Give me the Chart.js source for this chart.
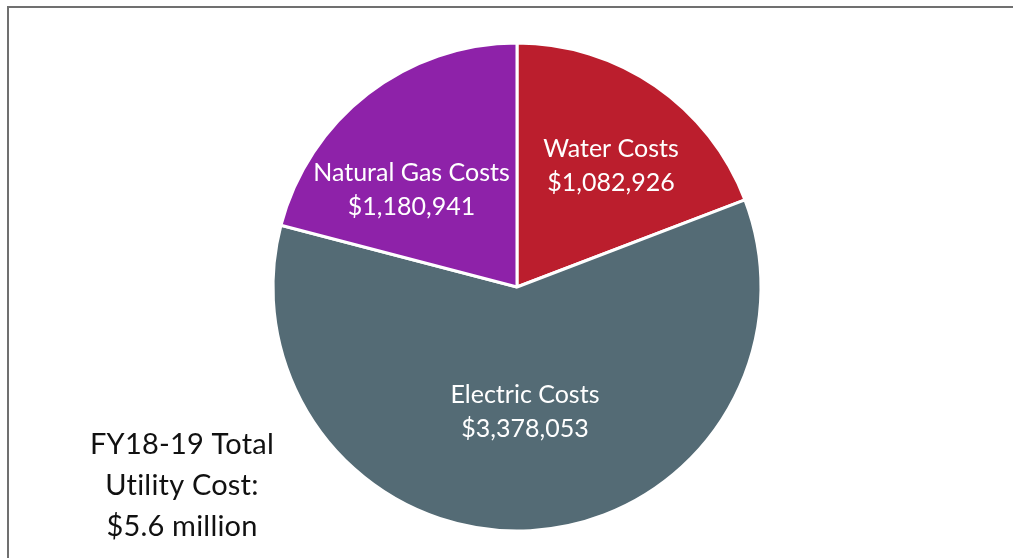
<!DOCTYPE html>
<html>
<head>
<meta charset="utf-8">
<script src="https://cdn.jsdelivr.net/npm/chart.js@4.4.1/dist/chart.umd.min.js"></script>
<style>
    html, body { margin: 0; padding: 0; background: #fff; overflow: hidden; }
    #utilityChart { display: block; }
</style>
</head>
<body>
<canvas id="utilityChart" width="1013" height="558"></canvas>
<script>
// FY18-19 utility costs
const categories = ['Water Costs', 'Electric Costs', 'Natural Gas Costs'];
const costs = [1082926, 3378053, 1180941];
const sliceColors = ['#bb1e2d', '#546b75', '#8e22a9'];
const totalLines = ['FY18-19 Total', 'Utility Cost:', '$5.6 million'];

const money = v => '$' + v.toLocaleString('en-US');

// Gray frame along the top and left edges
const frame = {
    id: 'frame',
    beforeDraw(chart, args, opts) {
        const ctx = chart.ctx;
        ctx.save();
        ctx.strokeStyle = opts.color;
        ctx.lineWidth = opts.width;
        ctx.beginPath();
        ctx.moveTo(opts.x, chart.height);
        ctx.lineTo(opts.x, opts.y);
        ctx.lineTo(chart.width, opts.y);
        ctx.stroke();
        ctx.restore();
    }
};

// Two-line labels (name + dollar amount) inside each slice
const sliceLabels = {
    id: 'sliceLabels',
    afterDatasetsDraw(chart, args, opts) {
        const ctx = chart.ctx;
        const meta = chart.getDatasetMeta(0);
        ctx.save();
        ctx.fillStyle = '#ffffff';
        ctx.font = opts.font;
        ctx.textAlign = 'center';
        ctx.textBaseline = 'middle';
        meta.data.forEach((arc, i) => {
            const p = arc.getProps(['x', 'y', 'startAngle', 'endAngle', 'outerRadius'], true);
            const mid = (p.startAngle + p.endAngle) / 2;
            const r = p.outerRadius * opts.radiusFactor;
            const shift = opts.shift[i] || [0, 0];
            const cx = p.x + Math.cos(mid) * r + shift[0];
            const cy = p.y + Math.sin(mid) * r + shift[1];
            ctx.fillText(categories[i], cx, cy - opts.lineHeight / 2);
            ctx.fillText(money(costs[i]), cx, cy + opts.lineHeight / 2);
        });
        ctx.restore();
    }
};

// Total cost note in the lower left corner
const totalNote = {
    id: 'totalNote',
    afterDraw(chart, args, opts) {
        const ctx = chart.ctx;
        ctx.save();
        ctx.fillStyle = '#111111';
        ctx.font = opts.font;
        ctx.letterSpacing = '0.2px'; // keeps "ti" from turning into a ligature
        ctx.textAlign = 'center';
        ctx.textBaseline = 'middle';
        totalLines.forEach((line, i) => {
            ctx.fillText(line, opts.x, opts.y + i * opts.lineHeight);
        });
        ctx.restore();
    }
};

new Chart(document.getElementById('utilityChart'), {
    type: 'pie',
    data: {
        labels: categories,
        datasets: [{
            data: costs,
            backgroundColor: sliceColors,
            borderColor: '#ffffff',
            borderWidth: 3,
            radius: 244
        }]
    },
    options: {
        responsive: false,
        animation: false,
        layout: { padding: { left: 21, top: 16, right: 0, bottom: 0 } },
        plugins: {
            legend: { display: false },
            tooltip: { enabled: false },
            frame: { color: '#707070', width: 2, x: 8, y: 7 },
            sliceLabels: {
                font: '25px Lato',
                lineHeight: 34,
                radiusFactor: 0.6,
                shift: [[11, 0], [0, -21], [-16, 19]]
            },
            totalNote: {
                font: '29px Lato',
                x: 182,
                y: 445,
                lineHeight: 41
            }
        }
    },
    plugins: [frame, sliceLabels, totalNote]
});
</script>
</body>
</html>
